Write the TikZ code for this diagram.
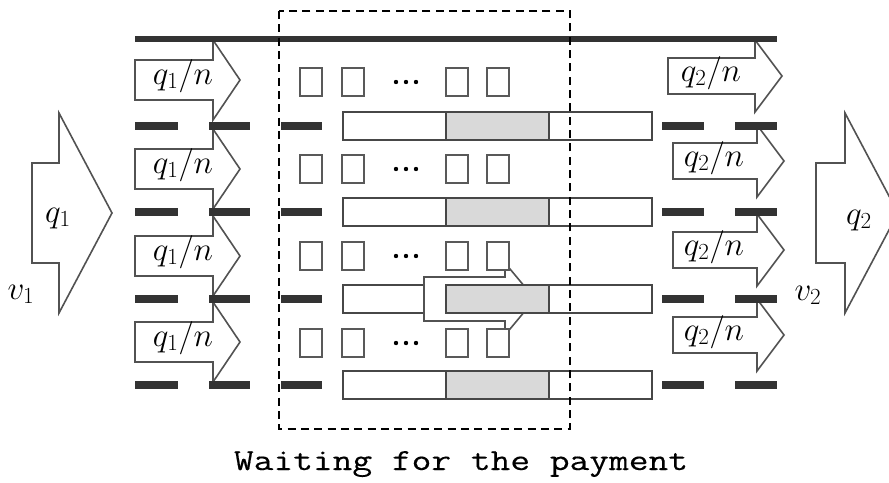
\documentclass[tikz,border=0pt]{standalone}
\usepackage{fontspec}
\newfontfamily\capfont[FakeBold=0.3]{Latin Modern Mono}
\begin{document}
\begin{tikzpicture}[x=0.75pt,y=-0.75pt,
  outline/.style={draw=black!68,line width=1.2pt,fill=white},
  edgebar/.style={line width=5.2pt,draw=black!80},
  bar/.style={line width=6.6pt,draw=black!80},
  slot/.style={draw=black!72,line width=1.2pt,fill=white},
  paid/.style={draw=black!72,line width=1.2pt,fill=black!15},
  cell/.style={draw=black!65,line width=1.4pt,fill=white},
  lbl/.style={font=\fontsize{23.5}{25}\selectfont,inner sep=0pt},
  dot/.style={fill=black,draw=none}]
\useasboundingbox (0,0) rectangle (889,482);

% block arrow: body left x, body half height, head base x, head half height, tip x, centre y
\newcommand\blockarrow[6]{%
  \draw[outline] (#1,#6-#2) -- (#3,#6-#2) -- (#3,#6-#4) -- (#5,#6)
    -- (#3,#6+#4) -- (#3,#6+#2) -- (#1,#6+#2) -- cycle;}

% incoming and outgoing total flows
\blockarrow{32}{50}{59}{100}{112}{213}
\blockarrow{816}{50}{845}{100}{898}{213}
\node[lbl,anchor=base] (qin) at (58,222) {$q_1$};
\node[lbl,anchor=base] (qout) at (859,224) {$q_2$};
\node[lbl,anchor=base] (vin) at (21,299) {$v_1$};
\node[lbl,anchor=base] (vout) at (808,300) {$v_2$};

% split flows per lane
\foreach \c/\n in {80/a,169/b,256/c,342/d}{
  \blockarrow{135}{20}{213}{40}{240}{\c}
  \node[lbl,anchor=base] (in\n) at (183,\c+4) {$q_1/n$};
}
\blockarrow{668}{18}{755}{36}{782}{76}
\node[lbl,anchor=base] (outa) at (711,81) {$q_2/n$};
\foreach \c/\n in {161/b,250/c,335/d}{
  \blockarrow{673}{18}{757}{36}{784}{\c}
  \node[lbl,anchor=base] (out\n) at (714,\c+5) {$q_2/n$};
}

% road edges and lane separators
\draw[edgebar] (135,39) -- (777,39);
\foreach \y in {126,212,299,385}{
  \draw[bar] (135,\y) -- (178,\y);
  \draw[bar] (209,\y) -- (250,\y);
  \draw[bar] (281,\y) -- (322,\y);
  \draw[bar] (662,\y) -- (704,\y);
  \draw[bar] (735,\y) -- (777,\y);
}

% toll lanes
\foreach \y in {126,212,299,385}{
  \draw[slot] (343,\y-14) rectangle (652,\y+14);
}
% vehicle moving through a lane
\blockarrow{424}{22}{505}{36}{535}{299}
\foreach \y in {126,212,299,385}{
  \draw[paid] (446,\y-14) rectangle (549,\y+14);
}

% queued vehicles
\foreach \y in {82,169,256,343}{
  \foreach \x in {300,342,446,487}{
    \draw[cell] (\x,\y-14) rectangle (\x+22,\y+14);
  }
  \foreach \x in {396,406,416}{
    \fill[dot] (\x,\y) circle (2.2);
  }
}

% waiting zone
\draw[dashed,line width=1pt,dash pattern=on 6pt off 4pt] (279,11) rectangle (570,429);
\node[font=\capfont\fontsize{23}{25}\selectfont,inner sep=0pt,anchor=base,
      xscale=1.25,transform shape] (cap) at (461,470) {Waiting for the payment};
\end{tikzpicture}
\end{document}
